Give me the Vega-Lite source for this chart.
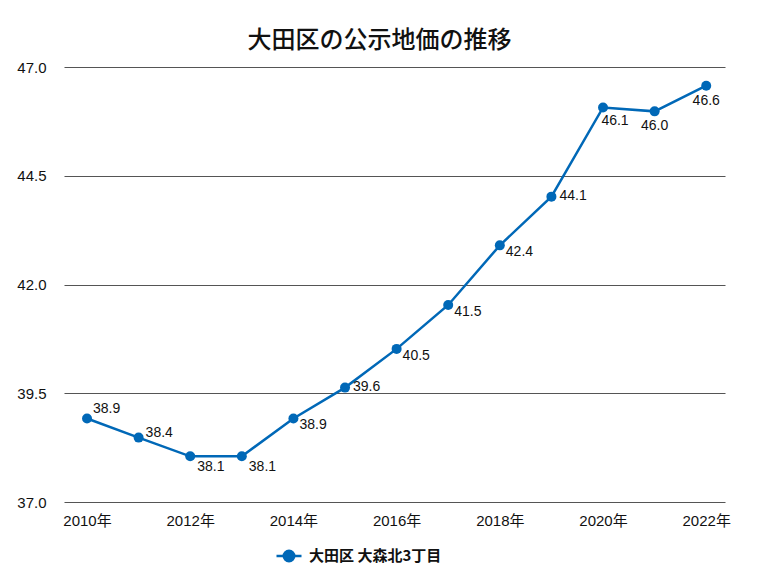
{
  "$schema": "https://vega.github.io/schema/vega-lite/v6.json",
  "width": 661,
  "height": 435,
  "autosize": {"type": "none"},
  "padding": {"left": 64, "top": 67, "right": 32, "bottom": 76},
  "background": "white",
  "title": {
    "text": "大田区の公示地価の推移",
    "font": "Noto Sans CJK JP",
    "fontSize": 24,
    "fontWeight": 500,
    "color": "#111111",
    "anchor": "middle",
    "frame": "group",
    "dx": -15,
    "offset": 7
  },
  "config": {
    "view": {"stroke": null},
    "axis": {"labelFont": "Liberation Sans", "labelFontSize": 15, "labelColor": "#111111"}
  },
  "data": {
    "values": [
      {"year": 2010, "value": 38.92, "label": "38.9", "series": "大田区 大森北3丁目"},
      {"year": 2011, "value": 38.48, "label": "38.4", "series": "大田区 大森北3丁目"},
      {"year": 2012, "value": 38.05, "label": "38.1", "series": "大田区 大森北3丁目"},
      {"year": 2013, "value": 38.05, "label": "38.1", "series": "大田区 大森北3丁目"},
      {"year": 2014, "value": 38.92, "label": "38.9", "series": "大田区 大森北3丁目"},
      {"year": 2015, "value": 39.63, "label": "39.6", "series": "大田区 大森北3丁目"},
      {"year": 2016, "value": 40.52, "label": "40.5", "series": "大田区 大森北3丁目"},
      {"year": 2017, "value": 41.53, "label": "41.5", "series": "大田区 大森北3丁目"},
      {"year": 2018, "value": 42.9, "label": "42.4", "series": "大田区 大森北3丁目"},
      {"year": 2019, "value": 44.02, "label": "44.1", "series": "大田区 大森北3丁目"},
      {"year": 2020, "value": 46.07, "label": "46.1", "series": "大田区 大森北3丁目"},
      {"year": 2021, "value": 45.98, "label": "46.0", "series": "大田区 大森北3丁目"},
      {"year": 2022, "value": 46.57, "label": "46.6", "series": "大田区 大森北3丁目"}
    ]
  },
  "encoding": {
    "x": {
      "field": "year",
      "type": "quantitative",
      "scale": {"domain": [2009.554, 2022.364], "nice": false, "zero": false},
      "axis": {
        "title": null,
        "values": [2010, 2012, 2014, 2016, 2018, 2020, 2022],
        "labelExpr": "datum.value + '年'",
        "grid": false,
        "domain": false,
        "ticks": false,
        "labelPadding": 11,
        "labelFont": "Liberation Sans, Noto Sans CJK JP"
      }
    },
    "y": {
      "field": "value",
      "type": "quantitative",
      "scale": {"domain": [37, 47], "nice": false, "zero": false},
      "axis": {
        "title": null,
        "values": [37, 39.5, 42, 44.5, 47],
        "format": ".1f",
        "grid": true,
        "gridColor": "#555555",
        "gridWidth": 1.2,
        "gridOpacity": 1,
        "domain": false,
        "ticks": false,
        "labelPadding": 18
      }
    }
  },
  "layer": [
    {
      "mark": {"type": "line", "strokeWidth": 2.5},
      "encoding": {
        "color": {
          "field": "series",
          "type": "nominal",
          "scale": {"range": ["#0068b7"]},
          "legend": {
            "title": null,
            "orient": "none",
            "legendX": 211,
            "legendY": 475,
            "padding": 0,
            "symbolType": "M-1,0L1,0M-0.42,0A0.42,0.42,0,1,1,0.42,0A0.42,0.42,0,1,1,-0.42,0Z",
            "symbolSize": 625,
            "symbolStrokeWidth": 2.5,
            "symbolFillColor": "#0068b7",
            "symbolStrokeColor": "#0068b7",
            "labelFont": "Noto Sans CJK JP",
            "labelFontSize": 15,
            "labelFontWeight": "bold",
            "labelColor": "#111111",
            "labelOffset": 6
          }
        }
      }
    },
    {
      "mark": {"type": "point", "filled": true, "size": 100, "opacity": 1},
      "encoding": {
        "color": {"field": "series", "type": "nominal", "scale": {"range": ["#0068b7"]}}
      }
    },
    {
      "transform": [{"filter": "datum.year == 2010"}],
      "mark": {"type": "text", "align": "left", "baseline": "middle", "dx": 6, "dy": -9, "font": "Liberation Sans", "fontSize": 14, "color": "#111111"},
      "encoding": {"text": {"field": "label", "type": "nominal"}}
    },
    {
      "transform": [{"filter": "datum.year == 2011"}],
      "mark": {"type": "text", "align": "left", "baseline": "middle", "dx": 7, "dy": -5, "font": "Liberation Sans", "fontSize": 14, "color": "#111111"},
      "encoding": {"text": {"field": "label", "type": "nominal"}}
    },
    {
      "transform": [{"filter": "datum.year == 2015 || datum.year == 2019"}],
      "mark": {"type": "text", "align": "left", "baseline": "middle", "dx": 8, "dy": -1, "font": "Liberation Sans", "fontSize": 14, "color": "#111111"},
      "encoding": {"text": {"field": "label", "type": "nominal"}}
    },
    {
      "transform": [{"filter": "datum.year == 2014 || datum.year == 2016 || datum.year == 2017 || datum.year == 2018"}],
      "mark": {"type": "text", "align": "left", "baseline": "middle", "dx": 6, "dy": 7, "font": "Liberation Sans", "fontSize": 14, "color": "#111111"},
      "encoding": {"text": {"field": "label", "type": "nominal"}}
    },
    {
      "transform": [{"filter": "datum.year == 2012 || datum.year == 2013"}],
      "mark": {"type": "text", "align": "left", "baseline": "middle", "dx": 7, "dy": 11, "font": "Liberation Sans", "fontSize": 14, "color": "#111111"},
      "encoding": {"text": {"field": "label", "type": "nominal"}}
    },
    {
      "transform": [{"filter": "datum.year == 2020"}],
      "mark": {"type": "text", "align": "center", "baseline": "middle", "dx": 12, "dy": 14, "font": "Liberation Sans", "fontSize": 14, "color": "#111111"},
      "encoding": {"text": {"field": "label", "type": "nominal"}}
    },
    {
      "transform": [{"filter": "datum.year == 2021 || datum.year == 2022"}],
      "mark": {"type": "text", "align": "center", "baseline": "middle", "dx": 0, "dy": 15, "font": "Liberation Sans", "fontSize": 14, "color": "#111111"},
      "encoding": {"text": {"field": "label", "type": "nominal"}}
    }
  ]
}
